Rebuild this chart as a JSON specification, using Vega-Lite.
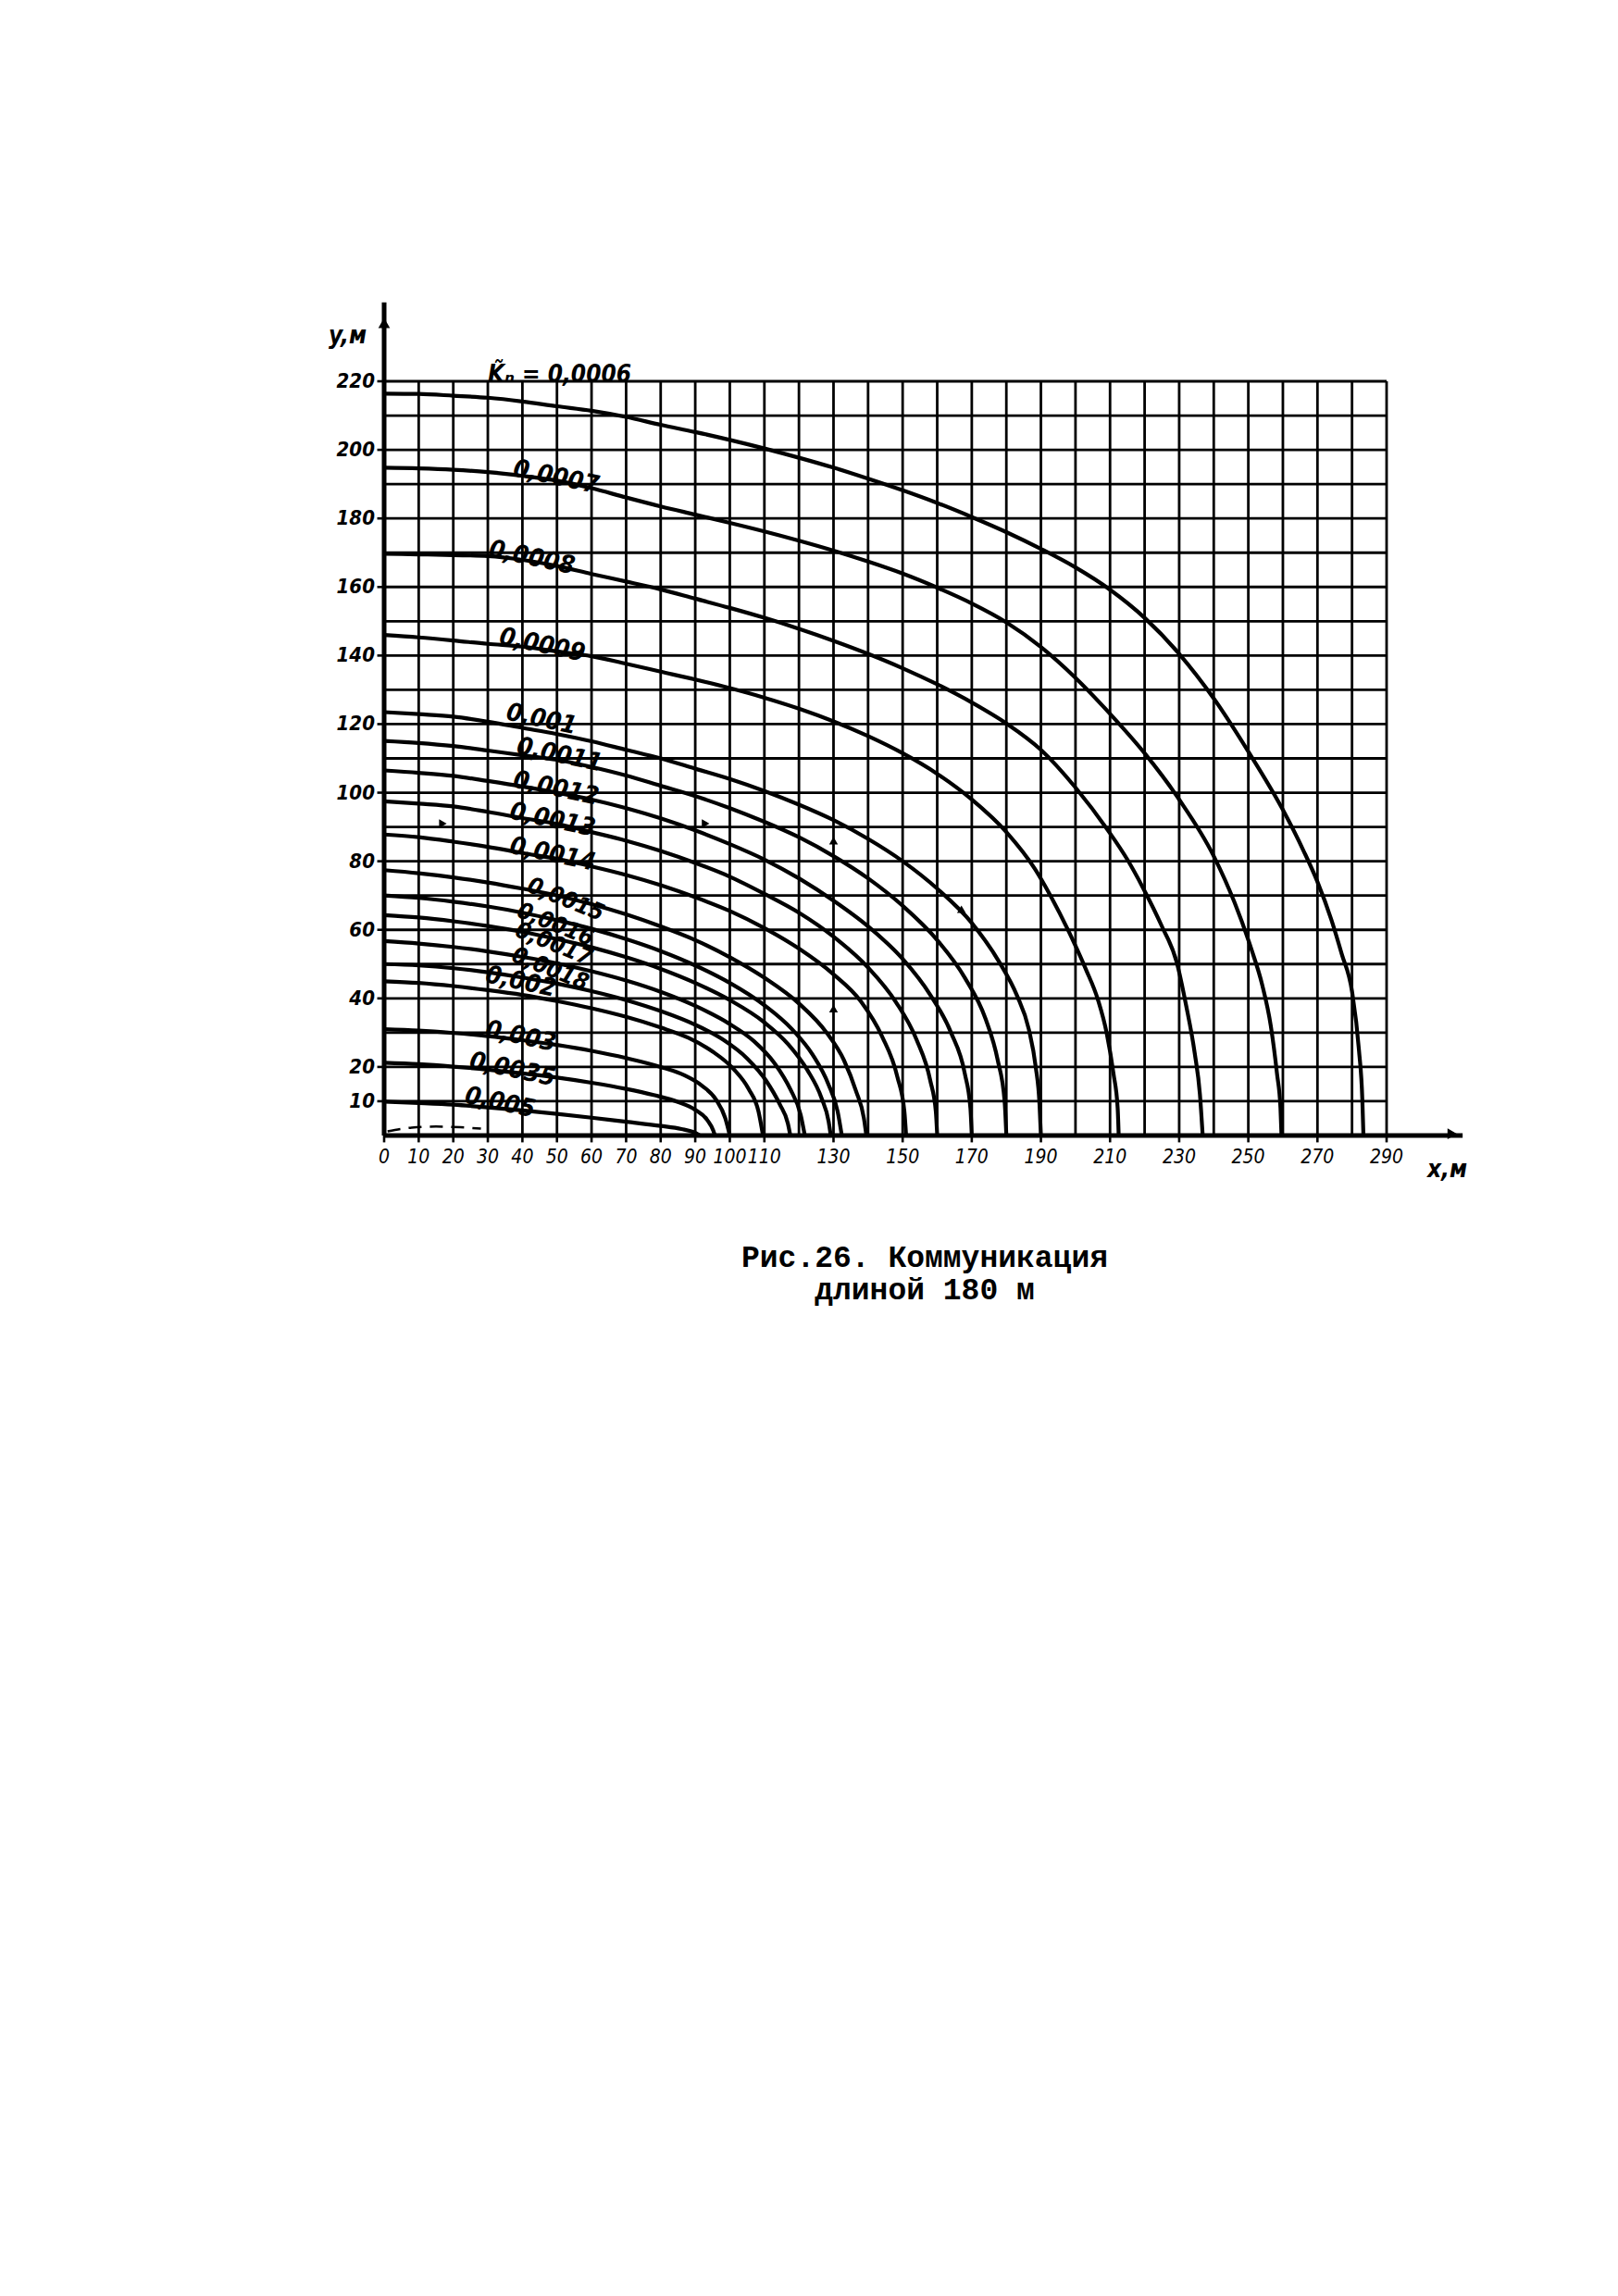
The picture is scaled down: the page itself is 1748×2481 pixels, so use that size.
{
  "$schema": "https://vega.github.io/schema/vega-lite/v6.json",
  "width": 1083,
  "height": 815,
  "autosize": {"type": "none"},
  "padding": {"left": 415, "top": 412, "right": 250, "bottom": 1254},
  "background": "white",
  "config": {"view": {"stroke": null}, "font": "DejaVu Sans Condensed"},
  "title": {
    "text": ["Рис.26. Коммуникация", "длиной 180 м"],
    "orient": "bottom", "anchor": "start", "frame": "group", "align": "center",
    "dx": 584, "offset": 93, "baseline": "alphabetic",
    "font": "Liberation Mono", "fontWeight": "bold", "fontSize": 33, "lineHeight": 35, "color": "black"
  },
  "datasets": {
    "gridX": [{"g": 0}, {"g": 10}, {"g": 20}, {"g": 30}, {"g": 40}, {"g": 50}, {"g": 60}, {"g": 70}, {"g": 80}, {"g": 90}, {"g": 100}, {"g": 110}, {"g": 120}, {"g": 130}, {"g": 140}, {"g": 150}, {"g": 160}, {"g": 170}, {"g": 180}, {"g": 190}, {"g": 200}, {"g": 210}, {"g": 220}, {"g": 230}, {"g": 240}, {"g": 250}, {"g": 260}, {"g": 270}, {"g": 280}, {"g": 290}],
    "gridY": [{"g": 10}, {"g": 20}, {"g": 30}, {"g": 40}, {"g": 50}, {"g": 60}, {"g": 70}, {"g": 80}, {"g": 90}, {"g": 100}, {"g": 110}, {"g": 120}, {"g": 130}, {"g": 140}, {"g": 150}, {"g": 160}, {"g": 170}, {"g": 180}, {"g": 190}, {"g": 200}, {"g": 210}, {"g": 220}],
    "xTicks": [{"v": 0, "t": "0"}, {"v": 10, "t": "10"}, {"v": 20, "t": "20"}, {"v": 30, "t": "30"}, {"v": 40, "t": "40"}, {"v": 50, "t": "50"}, {"v": 60, "t": "60"}, {"v": 70, "t": "70"}, {"v": 80, "t": "80"}, {"v": 90, "t": "90"}, {"v": 100, "t": "100"}, {"v": 110, "t": "110"}, {"v": 130, "t": "130"}, {"v": 150, "t": "150"}, {"v": 170, "t": "170"}, {"v": 190, "t": "190"}, {"v": 210, "t": "210"}, {"v": 230, "t": "230"}, {"v": 250, "t": "250"}, {"v": 270, "t": "270"}, {"v": 290, "t": "290"}],
    "yTicks": [{"v": 10, "t": "10"}, {"v": 20, "t": "20"}, {"v": 40, "t": "40"}, {"v": 60, "t": "60"}, {"v": 80, "t": "80"}, {"v": 100, "t": "100"}, {"v": 120, "t": "120"}, {"v": 140, "t": "140"}, {"v": 160, "t": "160"}, {"v": 180, "t": "180"}, {"v": 200, "t": "200"}, {"v": 220, "t": "220"}],
    "axisLines": [{"x1": 0, "y1": 0, "x2": 0, "y2": 243}, {"x1": 0, "y1": 0, "x2": 312, "y2": 0}],
    "axisArrowU": [{"x": 0, "y": 237}],
    "axisArrowR": [{"x": 309, "y": 0.5}],
    "curves": [
      {"k": "0,0006", "x": 0, "y": 216.4}, {"k": "0,0006", "x": 10, "y": 216.3}, {"k": "0,0006", "x": 20, "y": 215.8}, {"k": "0,0006", "x": 30, "y": 215.2}, {"k": "0,0006", "x": 40, "y": 214.1}, {"k": "0,0006", "x": 50, "y": 212.7}, {"k": "0,0006", "x": 60, "y": 211.4}, {"k": "0,0006", "x": 70, "y": 209.6}, {"k": "0,0006", "x": 80, "y": 207.3}, {"k": "0,0006", "x": 90, "y": 205.2}, {"k": "0,0006", "x": 100, "y": 202.9}, {"k": "0,0006", "x": 110, "y": 200.4}, {"k": "0,0006", "x": 120, "y": 197.7}, {"k": "0,0006", "x": 130, "y": 194.8}, {"k": "0,0006", "x": 140, "y": 191.6}, {"k": "0,0006", "x": 150, "y": 188.2}, {"k": "0,0006", "x": 160, "y": 184.5}, {"k": "0,0006", "x": 170, "y": 180.4}, {"k": "0,0006", "x": 180, "y": 176}, {"k": "0,0006", "x": 190, "y": 171.1}, {"k": "0,0006", "x": 200, "y": 165.7}, {"k": "0,0006", "x": 210, "y": 159.2}, {"k": "0,0006", "x": 220, "y": 151}, {"k": "0,0006", "x": 230, "y": 140.5}, {"k": "0,0006", "x": 240, "y": 127.5}, {"k": "0,0006", "x": 250, "y": 112}, {"k": "0,0006", "x": 260, "y": 95}, {"k": "0,0006", "x": 266, "y": 83}, {"k": "0,0006", "x": 270, "y": 74}, {"k": "0,0006", "x": 274, "y": 63}, {"k": "0,0006", "x": 277, "y": 53}, {"k": "0,0006", "x": 280, "y": 42}, {"k": "0,0006", "x": 282, "y": 25}, {"k": "0,0006", "x": 283, "y": 10}, {"k": "0,0006", "x": 283.3, "y": 0},

      {"k": "0,0007", "x": 0, "y": 194.8}, {"k": "0,0007", "x": 10, "y": 194.6}, {"k": "0,0007", "x": 20, "y": 194.2}, {"k": "0,0007", "x": 30, "y": 193.5}, {"k": "0,0007", "x": 40, "y": 192.4}, {"k": "0,0007", "x": 50, "y": 191}, {"k": "0,0007", "x": 60, "y": 188.8}, {"k": "0,0007", "x": 70, "y": 186.1}, {"k": "0,0007", "x": 80, "y": 183.5}, {"k": "0,0007", "x": 90, "y": 181.1}, {"k": "0,0007", "x": 100, "y": 178.7}, {"k": "0,0007", "x": 110, "y": 176.2}, {"k": "0,0007", "x": 120, "y": 173.5}, {"k": "0,0007", "x": 130, "y": 170.6}, {"k": "0,0007", "x": 140, "y": 167.4}, {"k": "0,0007", "x": 150, "y": 163.9}, {"k": "0,0007", "x": 160, "y": 159.8}, {"k": "0,0007", "x": 170, "y": 155.2}, {"k": "0,0007", "x": 180, "y": 149.7}, {"k": "0,0007", "x": 190, "y": 142.5}, {"k": "0,0007", "x": 200, "y": 133.5}, {"k": "0,0007", "x": 210, "y": 123}, {"k": "0,0007", "x": 220, "y": 111.5}, {"k": "0,0007", "x": 230, "y": 98}, {"k": "0,0007", "x": 240, "y": 81.5}, {"k": "0,0007", "x": 246, "y": 68}, {"k": "0,0007", "x": 251, "y": 54}, {"k": "0,0007", "x": 254, "y": 44}, {"k": "0,0007", "x": 256.5, "y": 32}, {"k": "0,0007", "x": 258.3, "y": 18}, {"k": "0,0007", "x": 259.3, "y": 8}, {"k": "0,0007", "x": 259.6, "y": 0},

      {"k": "0,0008", "x": 0, "y": 169.7}, {"k": "0,0008", "x": 10, "y": 169.5}, {"k": "0,0008", "x": 20, "y": 169.3}, {"k": "0,0008", "x": 30, "y": 169}, {"k": "0,0008", "x": 40, "y": 167.9}, {"k": "0,0008", "x": 50, "y": 166.1}, {"k": "0,0008", "x": 60, "y": 163.8}, {"k": "0,0008", "x": 70, "y": 161.6}, {"k": "0,0008", "x": 80, "y": 159.3}, {"k": "0,0008", "x": 90, "y": 156.6}, {"k": "0,0008", "x": 100, "y": 153.9}, {"k": "0,0008", "x": 110, "y": 151}, {"k": "0,0008", "x": 120, "y": 147.8}, {"k": "0,0008", "x": 130, "y": 144.3}, {"k": "0,0008", "x": 140, "y": 140.5}, {"k": "0,0008", "x": 150, "y": 136.3}, {"k": "0,0008", "x": 160, "y": 131.6}, {"k": "0,0008", "x": 170, "y": 126.3}, {"k": "0,0008", "x": 180, "y": 120.2}, {"k": "0,0008", "x": 190, "y": 112.5}, {"k": "0,0008", "x": 200, "y": 101.5}, {"k": "0,0008", "x": 209.4, "y": 89}, {"k": "0,0008", "x": 215, "y": 80.5}, {"k": "0,0008", "x": 219.4, "y": 72.5}, {"k": "0,0008", "x": 225, "y": 61}, {"k": "0,0008", "x": 229.3, "y": 50.5}, {"k": "0,0008", "x": 232, "y": 38}, {"k": "0,0008", "x": 234.5, "y": 24}, {"k": "0,0008", "x": 236, "y": 12}, {"k": "0,0008", "x": 236.8, "y": 0},

      {"k": "0,0009", "x": 0, "y": 146}, {"k": "0,0009", "x": 10, "y": 145.3}, {"k": "0,0009", "x": 20, "y": 144.4}, {"k": "0,0009", "x": 30, "y": 143.4}, {"k": "0,0009", "x": 40, "y": 142.6}, {"k": "0,0009", "x": 50, "y": 141.2}, {"k": "0,0009", "x": 60, "y": 139.8}, {"k": "0,0009", "x": 70, "y": 137.6}, {"k": "0,0009", "x": 80, "y": 135.3}, {"k": "0,0009", "x": 90, "y": 133}, {"k": "0,0009", "x": 100, "y": 130.5}, {"k": "0,0009", "x": 110, "y": 127.7}, {"k": "0,0009", "x": 120, "y": 124.5}, {"k": "0,0009", "x": 130, "y": 120.8}, {"k": "0,0009", "x": 140, "y": 116.5}, {"k": "0,0009", "x": 150, "y": 111.5}, {"k": "0,0009", "x": 160, "y": 105.5}, {"k": "0,0009", "x": 170, "y": 98}, {"k": "0,0009", "x": 180, "y": 88.5}, {"k": "0,0009", "x": 188.3, "y": 77.7}, {"k": "0,0009", "x": 193, "y": 69.5}, {"k": "0,0009", "x": 198, "y": 59.6}, {"k": "0,0009", "x": 203, "y": 48.5}, {"k": "0,0009", "x": 206.5, "y": 39.6}, {"k": "0,0009", "x": 209, "y": 30}, {"k": "0,0009", "x": 211, "y": 18}, {"k": "0,0009", "x": 212.2, "y": 8}, {"k": "0,0009", "x": 212.5, "y": 0},

      {"k": "0,001", "x": 0, "y": 123.5}, {"k": "0,001", "x": 10, "y": 122.9}, {"k": "0,001", "x": 20, "y": 122.2}, {"k": "0,001", "x": 30, "y": 120.7}, {"k": "0,001", "x": 40, "y": 118.9}, {"k": "0,001", "x": 50, "y": 117.1}, {"k": "0,001", "x": 60, "y": 115}, {"k": "0,001", "x": 70, "y": 112.5}, {"k": "0,001", "x": 80, "y": 110}, {"k": "0,001", "x": 90, "y": 107}, {"k": "0,001", "x": 100, "y": 104}, {"k": "0,001", "x": 110, "y": 100.5}, {"k": "0,001", "x": 120, "y": 96.5}, {"k": "0,001", "x": 130, "y": 92}, {"k": "0,001", "x": 140, "y": 86.5}, {"k": "0,001", "x": 150, "y": 80}, {"k": "0,001", "x": 160, "y": 72}, {"k": "0,001", "x": 170, "y": 62}, {"k": "0,001", "x": 178, "y": 50.5}, {"k": "0,001", "x": 183, "y": 41}, {"k": "0,001", "x": 186.5, "y": 31}, {"k": "0,001", "x": 188.5, "y": 20}, {"k": "0,001", "x": 189.6, "y": 9}, {"k": "0,001", "x": 190, "y": 0},

      {"k": "0,0011", "x": 0, "y": 115.1}, {"k": "0,0011", "x": 10, "y": 114.5}, {"k": "0,0011", "x": 20, "y": 113.6}, {"k": "0,0011", "x": 30, "y": 112.3}, {"k": "0,0011", "x": 40, "y": 110.9}, {"k": "0,0011", "x": 50, "y": 109.6}, {"k": "0,0011", "x": 60, "y": 107.5}, {"k": "0,0011", "x": 70, "y": 105}, {"k": "0,0011", "x": 80, "y": 102}, {"k": "0,0011", "x": 90, "y": 99}, {"k": "0,0011", "x": 100, "y": 95.5}, {"k": "0,0011", "x": 110, "y": 91.5}, {"k": "0,0011", "x": 120, "y": 87}, {"k": "0,0011", "x": 130, "y": 81.5}, {"k": "0,0011", "x": 140, "y": 75}, {"k": "0,0011", "x": 150, "y": 67}, {"k": "0,0011", "x": 160, "y": 57}, {"k": "0,0011", "x": 168, "y": 46}, {"k": "0,0011", "x": 174, "y": 34}, {"k": "0,0011", "x": 177.5, "y": 22}, {"k": "0,0011", "x": 179.5, "y": 10}, {"k": "0,0011", "x": 180, "y": 0},

      {"k": "0,0012", "x": 0, "y": 106.5}, {"k": "0,0012", "x": 10, "y": 105.8}, {"k": "0,0012", "x": 20, "y": 104.9}, {"k": "0,0012", "x": 30, "y": 103.4}, {"k": "0,0012", "x": 40, "y": 101.8}, {"k": "0,0012", "x": 50, "y": 100}, {"k": "0,0012", "x": 60, "y": 98}, {"k": "0,0012", "x": 70, "y": 95.5}, {"k": "0,0012", "x": 80, "y": 92.5}, {"k": "0,0012", "x": 90, "y": 89}, {"k": "0,0012", "x": 100, "y": 85}, {"k": "0,0012", "x": 110, "y": 80.5}, {"k": "0,0012", "x": 120, "y": 75}, {"k": "0,0012", "x": 130, "y": 68.5}, {"k": "0,0012", "x": 140, "y": 61}, {"k": "0,0012", "x": 150, "y": 51.5}, {"k": "0,0012", "x": 158, "y": 41}, {"k": "0,0012", "x": 164, "y": 30}, {"k": "0,0012", "x": 168, "y": 18}, {"k": "0,0012", "x": 169.6, "y": 8}, {"k": "0,0012", "x": 170, "y": 0},

      {"k": "0,0013", "x": 0, "y": 97.5}, {"k": "0,0013", "x": 10, "y": 96.8}, {"k": "0,0013", "x": 20, "y": 96}, {"k": "0,0013", "x": 30, "y": 94.4}, {"k": "0,0013", "x": 40, "y": 92.6}, {"k": "0,0013", "x": 50, "y": 90.9}, {"k": "0,0013", "x": 60, "y": 88.5}, {"k": "0,0013", "x": 70, "y": 86}, {"k": "0,0013", "x": 80, "y": 83}, {"k": "0,0013", "x": 90, "y": 79.5}, {"k": "0,0013", "x": 100, "y": 75.5}, {"k": "0,0013", "x": 110, "y": 70.5}, {"k": "0,0013", "x": 120, "y": 65}, {"k": "0,0013", "x": 130, "y": 58}, {"k": "0,0013", "x": 140, "y": 49}, {"k": "0,0013", "x": 148, "y": 39}, {"k": "0,0013", "x": 154, "y": 28}, {"k": "0,0013", "x": 158, "y": 16}, {"k": "0,0013", "x": 159.6, "y": 7}, {"k": "0,0013", "x": 160, "y": 0},

      {"k": "0,0014", "x": 0, "y": 87.8}, {"k": "0,0014", "x": 10, "y": 87}, {"k": "0,0014", "x": 20, "y": 85.7}, {"k": "0,0014", "x": 30, "y": 84.2}, {"k": "0,0014", "x": 40, "y": 82.4}, {"k": "0,0014", "x": 50, "y": 80.7}, {"k": "0,0014", "x": 60, "y": 78.5}, {"k": "0,0014", "x": 70, "y": 76}, {"k": "0,0014", "x": 80, "y": 73}, {"k": "0,0014", "x": 90, "y": 69.5}, {"k": "0,0014", "x": 100, "y": 65.5}, {"k": "0,0014", "x": 110, "y": 60.5}, {"k": "0,0014", "x": 120, "y": 54.5}, {"k": "0,0014", "x": 130, "y": 47}, {"k": "0,0014", "x": 138, "y": 39}, {"k": "0,0014", "x": 144, "y": 29}, {"k": "0,0014", "x": 148.5, "y": 17}, {"k": "0,0014", "x": 150.5, "y": 7}, {"k": "0,0014", "x": 151, "y": 0},

      {"k": "0,0015", "x": 0, "y": 77.4}, {"k": "0,0015", "x": 10, "y": 76.5}, {"k": "0,0015", "x": 20, "y": 75.3}, {"k": "0,0015", "x": 30, "y": 73.8}, {"k": "0,0015", "x": 40, "y": 72}, {"k": "0,0015", "x": 50, "y": 70}, {"k": "0,0015", "x": 60, "y": 67.5}, {"k": "0,0015", "x": 70, "y": 64.5}, {"k": "0,0015", "x": 80, "y": 61}, {"k": "0,0015", "x": 90, "y": 57}, {"k": "0,0015", "x": 100, "y": 52}, {"k": "0,0015", "x": 110, "y": 46}, {"k": "0,0015", "x": 120, "y": 38.5}, {"k": "0,0015", "x": 128, "y": 30}, {"k": "0,0015", "x": 133, "y": 22}, {"k": "0,0015", "x": 136.5, "y": 13}, {"k": "0,0015", "x": 138.8, "y": 5}, {"k": "0,0015", "x": 139.5, "y": 0},

      {"k": "0,0016", "x": 0, "y": 70}, {"k": "0,0016", "x": 10, "y": 69.3}, {"k": "0,0016", "x": 20, "y": 68.2}, {"k": "0,0016", "x": 30, "y": 66.8}, {"k": "0,0016", "x": 40, "y": 65}, {"k": "0,0016", "x": 50, "y": 62.8}, {"k": "0,0016", "x": 60, "y": 60.3}, {"k": "0,0016", "x": 70, "y": 57.3}, {"k": "0,0016", "x": 80, "y": 53.8}, {"k": "0,0016", "x": 90, "y": 49.6}, {"k": "0,0016", "x": 100, "y": 44.5}, {"k": "0,0016", "x": 110, "y": 38}, {"k": "0,0016", "x": 118, "y": 31}, {"k": "0,0016", "x": 124, "y": 23.5}, {"k": "0,0016", "x": 128.5, "y": 15}, {"k": "0,0016", "x": 131.2, "y": 7}, {"k": "0,0016", "x": 132.4, "y": 0},

      {"k": "0,0017", "x": 0, "y": 64.3}, {"k": "0,0017", "x": 10, "y": 63.6}, {"k": "0,0017", "x": 20, "y": 62.5}, {"k": "0,0017", "x": 30, "y": 61.1}, {"k": "0,0017", "x": 40, "y": 59.4}, {"k": "0,0017", "x": 50, "y": 57.3}, {"k": "0,0017", "x": 60, "y": 54.9}, {"k": "0,0017", "x": 70, "y": 52}, {"k": "0,0017", "x": 80, "y": 48.6}, {"k": "0,0017", "x": 90, "y": 44.5}, {"k": "0,0017", "x": 100, "y": 39.5}, {"k": "0,0017", "x": 110, "y": 33}, {"k": "0,0017", "x": 117, "y": 26.5}, {"k": "0,0017", "x": 122.5, "y": 19}, {"k": "0,0017", "x": 126.5, "y": 11}, {"k": "0,0017", "x": 128.6, "y": 4}, {"k": "0,0017", "x": 129.2, "y": 0},

      {"k": "0,0018", "x": 0, "y": 56.7}, {"k": "0,0018", "x": 10, "y": 56}, {"k": "0,0018", "x": 20, "y": 55}, {"k": "0,0018", "x": 30, "y": 53.7}, {"k": "0,0018", "x": 40, "y": 52.1}, {"k": "0,0018", "x": 50, "y": 50.2}, {"k": "0,0018", "x": 60, "y": 47.9}, {"k": "0,0018", "x": 70, "y": 45.2}, {"k": "0,0018", "x": 80, "y": 41.9}, {"k": "0,0018", "x": 90, "y": 37.8}, {"k": "0,0018", "x": 100, "y": 32.5}, {"k": "0,0018", "x": 107, "y": 27.5}, {"k": "0,0018", "x": 113, "y": 21}, {"k": "0,0018", "x": 117.5, "y": 13.5}, {"k": "0,0018", "x": 120.5, "y": 6}, {"k": "0,0018", "x": 121.7, "y": 0},

      {"k": "c50", "x": 0, "y": 50}, {"k": "c50", "x": 10, "y": 49.6}, {"k": "c50", "x": 20, "y": 48.8}, {"k": "c50", "x": 30, "y": 47.6}, {"k": "c50", "x": 40, "y": 46.1}, {"k": "c50", "x": 50, "y": 44.3}, {"k": "c50", "x": 60, "y": 42.1}, {"k": "c50", "x": 70, "y": 39.5}, {"k": "c50", "x": 80, "y": 36.3}, {"k": "c50", "x": 90, "y": 32.3}, {"k": "c50", "x": 98, "y": 28}, {"k": "c50", "x": 105, "y": 22.5}, {"k": "c50", "x": 110.5, "y": 16}, {"k": "c50", "x": 114.5, "y": 9}, {"k": "c50", "x": 116.8, "y": 3.5}, {"k": "c50", "x": 117.5, "y": 0},

      {"k": "0,002", "x": 0, "y": 45}, {"k": "0,002", "x": 10, "y": 44.5}, {"k": "0,002", "x": 20, "y": 43.6}, {"k": "0,002", "x": 30, "y": 42.4}, {"k": "0,002", "x": 40, "y": 41}, {"k": "0,002", "x": 50, "y": 39.2}, {"k": "0,002", "x": 60, "y": 37.1}, {"k": "0,002", "x": 70, "y": 34.6}, {"k": "0,002", "x": 80, "y": 31.5}, {"k": "0,002", "x": 88, "y": 28.5}, {"k": "0,002", "x": 95, "y": 24.5}, {"k": "0,002", "x": 101, "y": 19.5}, {"k": "0,002", "x": 105.5, "y": 13.5}, {"k": "0,002", "x": 108.3, "y": 7}, {"k": "0,002", "x": 109.6, "y": 0},

      {"k": "0,003", "x": 0, "y": 31}, {"k": "0,003", "x": 10, "y": 30.6}, {"k": "0,003", "x": 20, "y": 29.9}, {"k": "0,003", "x": 30, "y": 29}, {"k": "0,003", "x": 40, "y": 27.8}, {"k": "0,003", "x": 50, "y": 26.4}, {"k": "0,003", "x": 60, "y": 24.7}, {"k": "0,003", "x": 70, "y": 22.6}, {"k": "0,003", "x": 80, "y": 20}, {"k": "0,003", "x": 87, "y": 17.5}, {"k": "0,003", "x": 92, "y": 14.5}, {"k": "0,003", "x": 96, "y": 10.5}, {"k": "0,003", "x": 98.7, "y": 5}, {"k": "0,003", "x": 100, "y": 0},

      {"k": "0,0035", "x": 0, "y": 21.2}, {"k": "0,0035", "x": 10, "y": 20.8}, {"k": "0,0035", "x": 20, "y": 20.1}, {"k": "0,0035", "x": 30, "y": 19.2}, {"k": "0,0035", "x": 40, "y": 18.1}, {"k": "0,0035", "x": 50, "y": 16.9}, {"k": "0,0035", "x": 60, "y": 15.4}, {"k": "0,0035", "x": 70, "y": 13.6}, {"k": "0,0035", "x": 78, "y": 11.8}, {"k": "0,0035", "x": 85, "y": 9.8}, {"k": "0,0035", "x": 90, "y": 7.5}, {"k": "0,0035", "x": 93.5, "y": 4.5}, {"k": "0,0035", "x": 95.2, "y": 1.5}, {"k": "0,0035", "x": 95.7, "y": 0},

      {"k": "0,005", "x": 0, "y": 9.9}, {"k": "0,005", "x": 10, "y": 9.5}, {"k": "0,005", "x": 20, "y": 9}, {"k": "0,005", "x": 30, "y": 8.2}, {"k": "0,005", "x": 40, "y": 7.3}, {"k": "0,005", "x": 50, "y": 6.3}, {"k": "0,005", "x": 60, "y": 5.2}, {"k": "0,005", "x": 70, "y": 4}, {"k": "0,005", "x": 80, "y": 2.8}, {"k": "0,005", "x": 86, "y": 1.9}, {"k": "0,005", "x": 89.5, "y": 1}, {"k": "0,005", "x": 91.4, "y": 0}
    ],
    "dash": [{"x": 1, "y": 1.2}, {"x": 8, "y": 2.3}, {"x": 15, "y": 2.6}, {"x": 22, "y": 2.4}, {"x": 28, "y": 2.0}],
    "labels": [
      {"t": "K̃ₙ = 0,0006", "g": "k", "x": 30, "y": 219.8},
      {"t": "0,0007", "g": "a", "x": 37, "y": 192.5},
      {"t": "0,0008", "g": "a", "x": 30, "y": 169},
      {"t": "0,0009", "g": "a", "x": 33, "y": 143.5},
      {"t": "0,001", "g": "a", "x": 35, "y": 121.4},
      {"t": "0,0011", "g": "a", "x": 38, "y": 111.5},
      {"t": "0,0012", "g": "a", "x": 37, "y": 101.7},
      {"t": "0,0013", "g": "a", "x": 36, "y": 92.5},
      {"t": "0,0014", "g": "a", "x": 36, "y": 82.5},
      {"t": "0,0015", "g": "s", "x": 41, "y": 71.3},
      {"t": "0,0016", "g": "s", "x": 38, "y": 64},
      {"t": "0,0017", "g": "s", "x": 37.5, "y": 58.3},
      {"t": "0,0018", "g": "s", "x": 36.5, "y": 51},
      {"t": "0,002", "g": "a", "x": 29, "y": 44.8},
      {"t": "0,003", "g": "a", "x": 29, "y": 28.9},
      {"t": "0,0035", "g": "a", "x": 24.4, "y": 19.7},
      {"t": "0,005", "g": "a", "x": 23, "y": 9.6}
    ],
    "arrowsR": [{"x": 17, "y": 91}, {"x": 93, "y": 91}],
    "arrowsU": [{"x": 130, "y": 86}, {"x": 130, "y": 37}, {"x": 167, "y": 66}]
  },
  "layer": [
    {
      "data": {"name": "gridX"},
      "mark": {"type": "rule", "color": "black", "strokeWidth": 2.8},
      "encoding": {
        "x": {
          "field": "g", "type": "quantitative",
          "scale": {"domain": [0, 290], "nice": false, "zero": false},
          "axis": {
            "labels": false, "ticks": false, "grid": false, "domain": false,
            "title": "x,м", "titleX": 1148, "titleY": 44, "titleAlign": "center", "titleBaseline": "alphabetic",
            "titleFont": "DejaVu Sans Condensed", "titleFontSize": 26, "titleFontStyle": "italic", "titleFontWeight": "bold", "titleColor": "black"
          }
        }
      }
    },
    {
      "data": {"name": "gridY"},
      "mark": {"type": "rule", "color": "black", "strokeWidth": 2.8},
      "encoding": {
        "y": {
          "field": "g", "type": "quantitative",
          "scale": {"domain": [0, 220], "nice": false, "zero": false},
          "axis": {
            "labels": false, "ticks": false, "grid": false, "domain": false,
            "title": "y,м", "titleX": -40, "titleY": -42, "titleAngle": 0, "titleAlign": "center", "titleBaseline": "alphabetic",
            "titleFont": "DejaVu Sans Condensed", "titleFontSize": 26, "titleFontStyle": "italic", "titleFontWeight": "bold", "titleColor": "black"
          }
        }
      }
    },
    {
      "data": {"name": "xTicks"},
      "mark": {"type": "rule", "color": "black", "strokeWidth": 2.6},
      "encoding": {"x": {"field": "v", "type": "quantitative"}, "y": {"datum": 0}, "y2": {"datum": -2}}
    },
    {
      "data": {"name": "yTicks"},
      "mark": {"type": "rule", "color": "black", "strokeWidth": 2.6},
      "encoding": {"y": {"field": "v", "type": "quantitative"}, "x": {"datum": 0}, "x2": {"datum": -2}}
    },
    {
      "data": {"name": "xTicks"},
      "mark": {"type": "text", "align": "center", "baseline": "top", "font": "DejaVu Sans Condensed", "fontSize": 21, "fontStyle": "italic", "fontWeight": "normal", "color": "black"},
      "encoding": {"x": {"field": "v", "type": "quantitative"}, "y": {"datum": -3.4}, "text": {"field": "t"}}
    },
    {
      "data": {"name": "yTicks"},
      "mark": {"type": "text", "align": "right", "baseline": "middle", "font": "DejaVu Sans Condensed", "fontSize": 22, "fontStyle": "italic", "fontWeight": "bold", "color": "black"},
      "encoding": {"y": {"field": "v", "type": "quantitative"}, "x": {"datum": -2.7}, "text": {"field": "t"}}
    },
    {
      "data": {"name": "curves"},
      "mark": {"type": "line", "color": "black", "strokeWidth": 4.2, "interpolate": "monotone"},
      "encoding": {
        "x": {"field": "x", "type": "quantitative"},
        "y": {"field": "y", "type": "quantitative"},
        "detail": {"field": "k"}
      }
    },
    {
      "data": {"name": "dash"},
      "mark": {"type": "line", "color": "black", "strokeWidth": 2.5, "strokeDash": [14, 9], "interpolate": "monotone"},
      "encoding": {"x": {"field": "x", "type": "quantitative"}, "y": {"field": "y", "type": "quantitative"}}
    },
    {
      "data": {"name": "axisLines"},
      "mark": {"type": "rule", "color": "black", "strokeWidth": 5},
      "encoding": {"x": {"field": "x1", "type": "quantitative"}, "y": {"field": "y1", "type": "quantitative"}, "x2": {"field": "x2"}, "y2": {"field": "y2"}}
    },
    {
      "data": {"name": "axisArrowU"},
      "mark": {"type": "point", "shape": "triangle-up", "filled": true, "color": "black", "size": 160, "opacity": 1},
      "encoding": {"x": {"field": "x", "type": "quantitative"}, "y": {"field": "y", "type": "quantitative"}}
    },
    {
      "data": {"name": "axisArrowR"},
      "mark": {"type": "point", "shape": "triangle-right", "filled": true, "color": "black", "size": 140, "opacity": 1},
      "encoding": {"x": {"field": "x", "type": "quantitative"}, "y": {"field": "y", "type": "quantitative"}}
    },
    {
      "data": {"name": "arrowsR"},
      "mark": {"type": "point", "shape": "triangle-right", "filled": true, "color": "black", "size": 90, "opacity": 1},
      "encoding": {"x": {"field": "x", "type": "quantitative"}, "y": {"field": "y", "type": "quantitative"}}
    },
    {
      "data": {"name": "arrowsU"},
      "mark": {"type": "point", "shape": "triangle-up", "filled": true, "color": "black", "size": 90, "opacity": 1},
      "encoding": {"x": {"field": "x", "type": "quantitative"}, "y": {"field": "y", "type": "quantitative"}}
    },
    {
      "data": {"name": "labels"},
      "transform": [{"filter": "datum.g == 'k'"}],
      "mark": {"type": "text", "align": "left", "baseline": "alphabetic", "font": "DejaVu Sans Condensed", "fontSize": 26, "fontStyle": "italic", "fontWeight": "bold", "color": "black", "angle": 0},
      "encoding": {"x": {"field": "x", "type": "quantitative"}, "y": {"field": "y", "type": "quantitative"}, "text": {"field": "t"}}
    },
    {
      "data": {"name": "labels"},
      "transform": [{"filter": "datum.g == 'a'"}],
      "mark": {"type": "text", "align": "left", "baseline": "alphabetic", "font": "DejaVu Sans Condensed", "fontSize": 27, "fontStyle": "italic", "fontWeight": "bold", "color": "black", "angle": 12},
      "encoding": {"x": {"field": "x", "type": "quantitative"}, "y": {"field": "y", "type": "quantitative"}, "text": {"field": "t"}}
    },
    {
      "data": {"name": "labels"},
      "transform": [{"filter": "datum.g == 's'"}],
      "mark": {"type": "text", "align": "left", "baseline": "alphabetic", "font": "DejaVu Sans Condensed", "fontSize": 25, "fontStyle": "italic", "fontWeight": "bold", "color": "black", "angle": 22},
      "encoding": {"x": {"field": "x", "type": "quantitative"}, "y": {"field": "y", "type": "quantitative"}, "text": {"field": "t"}}
    }
  ]
}
